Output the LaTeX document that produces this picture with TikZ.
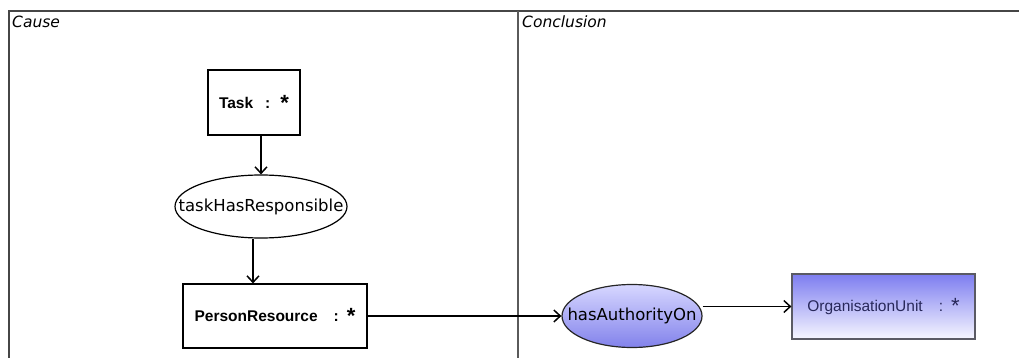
\documentclass[tikz,border=0pt]{standalone}
\usepackage{fontspec}
\setmainfont{Liberation Sans}
\newfontfamily\dejavu{DejaVu Sans}
\usetikzlibrary{shapes.geometric,arrows.meta,calc}
\definecolor{framegray}{RGB}{70,70,70}
\definecolor{divgray}{RGB}{90,90,90}
\definecolor{orgtext}{RGB}{40,40,90}
\definecolor{orgborder}{RGB}{90,90,100}
\newcommand{\bigstar}{\raisebox{-2pt}{\fontsize{22}{22}\selectfont *}}
\tikzset{
  arr/.style={draw=black, line width=1.5pt, -{Straight Barb[length=6.5pt,width=12pt,line width=1.5pt]}},
  classbox/.style={draw=black, line width=1.2pt, rectangle, inner sep=0pt, font=\fontsize{15.5}{18}\selectfont\bfseries},
  relell/.style={draw=black, line width=1.2pt, ellipse, inner sep=0pt},
  rellbl/.style={inner sep=0pt, font=\dejavu\fontsize{16.5}{19}\selectfont},
  title/.style={inner sep=0pt, anchor=base west, font=\dejavu\itshape\fontsize{15.5}{18}\selectfont}
}
\begin{document}
\begin{tikzpicture}[x=1pt,y=-1pt]
\useasboundingbox (0,0) rectangle (1019,358);
% frame
\draw[framegray, line width=1.8pt] (9,358) -- (9,11) -- (1019,11);
\draw[divgray, line width=1.2pt] (518,11) -- (518,358);
\node[title] (cause) at (12,28) {Cause};
\node[title] (concl) at (522,28) {Conclusion};
% nodes
\node[classbox, minimum width=92pt, minimum height=65pt] (task) at (254,102.5)
  {Task\hspace{12pt}:\hspace{10pt}\bigstar};
\node[relell, minimum width=172pt, minimum height=63pt] (resp) at (261,206.5) {};
\node[rellbl] (resplbl) at (resp) {taskHasResponsible};
\node[classbox, minimum width=184pt, minimum height=64pt] (person) at (275,316)
  {PersonResource\hspace{16pt}:\hspace{8pt}\bigstar};
\node[relell, minimum width=140pt, minimum height=63pt,
  top color={rgb,255:red,215;green,215;blue,255}, bottom color={rgb,255:red,130;green,130;blue,235},
  draw=black!85] (auth) at (632,316) {};
\node[rellbl] (authlbl) at (auth) {hasAuthorityOn};
\node[rectangle, draw=orgborder, line width=1.2pt, inner sep=0pt,
  minimum width=183pt, minimum height=65pt,
  top color={rgb,255:red,125;green,125;blue,240}, bottom color={rgb,255:red,246;green,246;blue,255},
  text=orgtext, font=\fontsize{15.5}{18}\selectfont] (org) at (883.5,306.5)
  {OrganisationUnit\hspace{16pt}:\hspace{8pt}\bigstar};
% connectors
\draw[arr] (task.south -| resp.north) -- (resp.north);
\draw[arr] ([xshift=-8pt]resp.south) -- ([xshift=-8pt]resp.south |- person.north);
\draw[arr, line width=1.8pt] (person.east) -- (auth.west);
\draw[arr] (org.west -| auth.east) -- (org.west);
\end{tikzpicture}
\end{document}
